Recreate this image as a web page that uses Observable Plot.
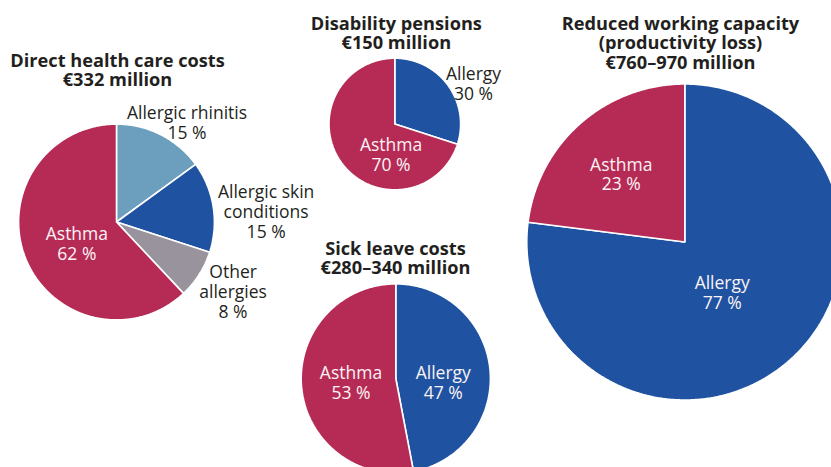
<!DOCTYPE html>
<html>
<head>
<meta charset="utf-8">
<script src="https://cdn.jsdelivr.net/npm/d3@7"></script>
<script src="https://cdn.jsdelivr.net/npm/@observablehq/plot@0.6"></script>
<style>
  html, body { margin: 0; padding: 0; background: #fff; overflow: hidden; }
  svg { overflow: hidden; }
</style>
</head>
<body>
<div id="chart"></div>
<script>
// ---------------- DATA ----------------
const pieTitles = ["Direct health care costs", "Disability pensions", "Sick leave costs", "Reduced working capacity\n(productivity loss)"];
const costLabels = ["€332 million", "€150 million", "€280–340 million", "€760–970 million"];
const costLow = [332, 150, 280, 760];
const costHigh = [332, 150, 340, 970];
const sliceNames = [
  ["Allergic rhinitis", "Allergic skin conditions", "Other allergies", "Asthma"],
  ["Allergy", "Asthma"],
  ["Allergy", "Asthma"],
  ["Allergy", "Asthma"]
];
const sliceLabels = [
  ["Allergic rhinitis", "Allergic skin\nconditions", "Other\nallergies", "Asthma"],
  ["Allergy", "Asthma"],
  ["Allergy", "Asthma"],
  ["Allergy", "Asthma"]
];
const sliceShares = [
  [15, 15, 8, 62],
  [30, 70],
  [47, 53],
  [77, 23]
];
const categories = ["Asthma", "Allergy", "Allergic rhinitis", "Allergic skin conditions", "Other allergies"];

// ---------------- LAYOUT / STYLE ----------------
const W = 831, H = 467;
const colors = ["#b62b55", "#1f52a1", "#6b9fbd", "#1f52a1", "#99939d"];
const pieCenters = [[116, 221.5], [394.3, 123.5], [395.3, 378], [684.3, 241.5]];
const titleAnchors = [[117, 69.7], [395.8, 32.7], [395, 258], [680, 42.3]];
// label placement: polar offset from pie centre (degrees clockwise from 12 o'clock, px), inside => white text
const labelPlacement = [
  [[35.3, 122, false], [86, 150, false], [121, 136, false], [241.7, 45, true]],
  [[62.8, 88.5, false], [187, 30.7, true]],
  [[94.5, 47.6, true], [265, 45, true]],
  [[143.3, 62.6, true], [316.9, 93, true]]
];
const maxR = 158;
const fontFamily = "'Open Sans', 'Noto Sans', sans-serif";

// ---------------- BUILD ----------------
const rScale = Plot.scale({r: {type: "sqrt", domain: [0, (costLow[3] + costHigh[3]) / 2], range: [0, maxR]}});

const wedgePoints = [];
const labels = [];
const titles = [];
sliceShares.forEach((shares, p) => {
  const [cx, cy] = pieCenters[p];
  const value = (costLow[p] + costHigh[p]) / 2;
  const r = rScale.apply(value);
  const arcs = d3.pie().sort(null).value(d => d)(shares);
  arcs.forEach((a, i) => {
    const id = `${p}-${i}`;
    const name = sliceNames[p][i];
    const pt = (ang) => ({id, name, x: cx + r * Math.sin(ang), y: cy - r * Math.cos(ang)});
    wedgePoints.push({id, name, x: cx, y: cy});
    const n = Math.max(2, Math.ceil((a.endAngle - a.startAngle) / (Math.PI / 360)));
    for (let k = 0; k <= n; k++) {
      wedgePoints.push(pt(a.startAngle + (a.endAngle - a.startAngle) * k / n));
    }
    wedgePoints.push({id, name, x: cx, y: cy});
    const [deg, dist, inside] = labelPlacement[p][i];
    const rad = deg * Math.PI / 180;
    labels.push({
      text: `${sliceLabels[p][i]}\n${shares[i]} %`,
      x: cx + dist * Math.sin(rad),
      y: cy - dist * Math.cos(rad),
      inside
    });
  });
  titles.push({text: `${pieTitles[p]}\n${costLabels[p]}`, x: titleAnchors[p][0], y: titleAnchors[p][1]});
});

const chart = Plot.plot({
  width: W,
  height: H,
  margin: 0,
  x: {domain: [0, W], range: [0, W], axis: null},
  y: {domain: [0, H], range: [0, H], axis: null},
  color: {domain: categories, range: colors},
  style: {fontFamily, background: "#fff", overflow: "hidden"},
  marks: [
    Plot.line(wedgePoints, {x: "x", y: "y", z: "id", fill: "name", stroke: "white", strokeWidth: 1.6, strokeLinejoin: "miter", curve: "linear"}),
    Plot.text(labels.filter(d => !d.inside), {x: "x", y: "y", text: "text", fill: "#231f20", fontSize: 17.5, lineHeight: 1.14}),
    Plot.text(labels.filter(d => d.inside), {x: "x", y: "y", text: "text", fill: "#fbf3f5", fontSize: 17.5, lineHeight: 1.14}),
    Plot.text(titles, {x: "x", y: "y", text: "text", fill: "#231f20", fontSize: 18.2, fontWeight: "bold", lineHeight: 1.07})
  ]
});
document.getElementById("chart").append(chart);
</script>
</body>
</html>
